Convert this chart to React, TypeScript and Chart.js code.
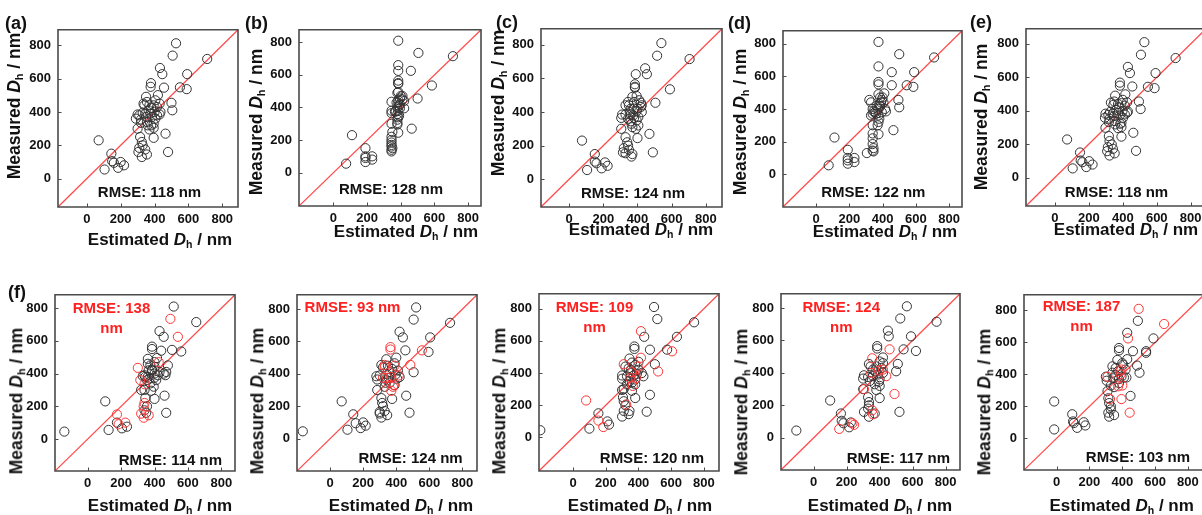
import React, { useEffect, useRef } from "react";
import { Chart, registerables } from "chart.js";
Chart.register(...registerables);

// ---------- data ----------
const tickValues = [0, 200, 400, 600, 800];
const identityLine = [-400, 1100];

const panelA: number[][] = [
  [527, 812], [507, 738], [711, 718], [432, 664], [446, 627], [593, 627], [379, 573], [377, 551], [456, 546], [550, 548], [590, 537],
  [350, 491], [420, 501], [355, 460], [405, 470], [430, 450], [500, 455], [505, 410], [335, 450], [340, 440], [370, 440], [395, 440],
  [415, 430], [380, 425], [365, 410], [400, 400], [435, 400], [330, 395], [345, 390], [375, 390], [415, 380], [300, 385], [310, 380],
  [290, 360], [320, 355], [350, 370], [385, 370], [405, 360], [355, 340], [395, 330], [430, 385], [320, 335], [360, 320], [380, 320],
  [395, 305], [370, 295], [300, 300], [395, 245], [465, 270], [315, 250], [325, 220], [330, 200], [310, 185], [345, 175], [305, 160],
  [355, 145], [325, 130], [480, 160], [70, 230], [145, 150], [150, 105], [160, 95], [200, 100], [220, 80], [185, 65], [105, 55],
];
const panelB: number[][] = [
  [385, 810], [505, 735], [710, 715], [385, 660], [385, 625], [460, 625], [385, 565], [385, 550], [385, 545], [585, 535], [385, 495],
  [380, 490], [410, 470], [395, 455], [385, 445], [420, 440], [345, 435], [500, 455], [420, 395], [385, 430], [390, 410], [380, 400],
  [395, 395], [385, 380], [370, 375], [345, 380], [345, 365], [380, 360], [390, 350], [385, 340], [380, 325], [380, 305], [345, 300],
  [380, 295], [385, 245], [465, 270], [350, 250], [345, 220], [345, 200], [345, 185], [345, 170], [345, 160], [350, 150], [345, 140],
  [345, 130], [110, 230], [75, 55], [190, 150], [190, 100], [190, 90], [190, 65], [230, 100], [230, 80], [365, 375], [400, 470],
  [410, 450], [375, 430], [395, 420],
];
const panelC: number[][] = [
  [540, 810], [515, 735], [705, 715], [445, 660], [455, 625], [390, 625], [385, 565], [385, 550], [385, 545], [590, 535], [370, 490],
  [395, 495], [410, 470], [505, 455], [380, 460], [425, 440], [350, 440], [360, 420], [400, 420], [330, 385], [310, 385], [305, 365],
  [355, 400], [375, 380], [395, 405], [425, 400], [345, 360], [380, 365], [405, 370], [365, 330], [390, 300], [405, 320], [305, 300],
  [370, 310], [400, 245], [470, 270], [330, 250], [340, 220], [320, 185], [350, 175], [315, 160], [370, 150], [365, 135], [490, 160],
  [75, 230], [150, 150], [150, 105], [160, 95], [190, 65], [210, 100], [225, 80], [105, 55], [360, 385], [420, 455], [345, 460],
  [330, 440], [380, 420], [360, 345], [395, 350], [420, 430], [330, 155], [345, 200],
];
const panelD: number[][] = [
  [375, 810], [500, 735], [710, 715], [375, 660], [455, 625], [590, 625], [375, 565], [375, 550], [455, 545], [545, 545], [585, 535],
  [375, 490], [410, 495], [385, 470], [395, 455], [320, 455], [330, 440], [495, 455], [500, 410], [345, 385], [340, 370], [360, 370],
  [375, 400], [380, 430], [390, 440], [415, 400], [420, 385], [375, 360], [380, 340], [375, 320], [370, 300], [340, 300], [375, 245],
  [465, 270], [340, 250], [340, 220], [340, 185], [345, 160], [340, 145], [345, 140], [305, 130], [110, 225], [75, 55], [190, 150],
  [190, 100], [190, 85], [190, 65], [230, 100], [230, 75], [340, 400], [365, 420], [400, 470], [385, 415], [330, 360], [395, 380],
  [405, 440], [355, 380],
];
const panelE: number[][] = [
  [527, 810], [507, 735], [711, 715], [430, 662], [442, 625], [593, 625], [383, 568], [383, 550], [456, 545], [548, 543], [587, 535],
  [355, 490], [415, 498], [350, 455], [400, 465], [425, 450], [495, 455], [505, 410], [330, 448], [345, 435], [372, 440], [392, 445],
  [412, 430], [378, 420], [362, 405], [398, 398], [430, 395], [325, 392], [342, 385], [372, 385], [412, 378], [298, 382], [315, 375],
  [295, 358], [322, 352], [348, 368], [382, 372], [402, 358], [352, 338], [392, 328], [425, 388], [318, 332], [355, 318], [385, 322],
  [392, 302], [372, 296], [298, 298], [392, 245], [462, 268], [318, 248], [322, 218], [335, 198], [312, 182], [342, 172], [308, 158],
  [352, 145], [322, 132], [478, 160], [72, 228], [148, 150], [152, 102], [162, 92], [202, 98], [222, 78], [185, 63], [105, 55],
];
const panelF: number[][] = [
  [-140, 45], [515, 810], [650, 715], [430, 660], [455, 625], [385, 565], [385, 550], [440, 540], [505, 545], [560, 535], [360, 490],
  [415, 495], [470, 410], [480, 450], [460, 265], [470, 160], [105, 230], [125, 55], [175, 100], [205, 65], [235, 75], [320, 300],
  [400, 245], [345, 250], [330, 385], [360, 460], [375, 450], [400, 440], [365, 420], [385, 425], [400, 400], [430, 410], [345, 380],
  [370, 370], [400, 375], [420, 390], [455, 400], [465, 390], [375, 340], [395, 320], [380, 295], [340, 390], [355, 360], [410, 360],
  [340, 300], [355, 200], [340, 175], [350, 160], [385, 420], [360, 380], [400, 470],
];
const panelFRed: number[][] = [
  [495, 735], [540, 625], [300, 435], [315, 360], [340, 335], [425, 470], [340, 220], [335, 200], [320, 155], [335, 130], [365, 145],
  [175, 150], [185, 90], [225, 100],
];
const panelG: number[][] = [
  [-165, 45], [70, 230], [105, 55], [140, 150], [155, 95], [185, 65], [200, 100], [215, 80], [520, 810], [505, 735], [725, 715],
  [420, 660], [440, 625], [605, 625], [455, 545], [595, 535], [505, 410], [460, 265], [480, 160], [375, 245], [340, 490], [400, 500],
  [310, 455], [320, 440], [350, 450], [390, 465], [410, 420], [280, 385], [285, 365], [300, 390], [340, 400], [360, 410], [395, 395],
  [420, 380], [345, 360], [360, 345], [330, 320], [390, 330], [285, 300], [310, 250], [315, 220], [320, 200], [300, 165], [330, 170],
  [345, 145], [310, 130], [300, 155], [375, 430], [355, 375], [405, 370], [335, 345],
];
const panelGRed: number[][] = [
  [365, 565], [365, 550], [330, 455], [330, 440], [390, 450], [320, 375], [345, 375], [370, 380], [415, 390], [385, 330], [380, 320],
  [370, 295], [555, 545], [485, 455],
];
const panelH: number[][] = [
  [-200, 45], [495, 810], [515, 735], [740, 715], [435, 625], [635, 625], [375, 565], [375, 550], [470, 545], [575, 545], [500, 455],
  [470, 265], [450, 160], [380, 245], [100, 55], [155, 150], [210, 100], [220, 80], [345, 490], [360, 465], [320, 440], [340, 430],
  [380, 450], [400, 420], [420, 400], [430, 380], [300, 385], [300, 365], [330, 380], [350, 400], [370, 385], [380, 360], [345, 350],
  [360, 340], [380, 330], [310, 300], [300, 295], [360, 290], [305, 250], [310, 225], [320, 200], [310, 165], [345, 165], [340, 145],
  [300, 130], [330, 330], [390, 395], [355, 420], [400, 470],
];
const panelHRed: number[][] = [
  [415, 660], [415, 495], [310, 455], [395, 440], [360, 405], [350, 370], [385, 370], [365, 320], [520, 410], [605, 535], [80, 230],
  [155, 105], [185, 65], [325, 205],
];
const panelI: number[][] = [
  [-105, 45], [565, 810], [525, 735], [745, 715], [450, 660], [455, 625], [590, 625], [385, 565], [385, 550], [545, 545], [620, 535],
  [500, 410], [510, 455], [520, 160], [400, 245], [100, 230], [165, 150], [170, 105], [180, 90], [215, 65], [225, 95], [420, 495],
  [400, 470], [335, 455], [345, 440], [380, 440], [410, 430], [305, 385], [300, 365], [330, 375], [360, 380], [390, 390], [400, 360],
  [420, 400], [340, 350], [370, 330], [400, 320], [380, 295], [300, 300], [330, 250], [335, 220], [335, 200], [330, 180], [305, 160],
  [335, 130], [370, 150], [360, 420], [395, 345], [420, 460], [375, 410],
];
const panelIRed: number[][] = [
  [460, 545], [355, 490], [395, 415], [420, 420], [440, 380], [350, 400], [305, 300], [490, 270], [355, 170], [360, 145], [155, 55],
  [235, 90], [245, 80],
];
const panelJ: number[][] = [
  [-15, 230], [-15, 55], [95, 150], [100, 105], [105, 95], [125, 65], [165, 100], [175, 80], [495, 735], [430, 660], [590, 625],
  [465, 545], [545, 545], [545, 535], [490, 455], [505, 410], [450, 265], [310, 295], [380, 565], [380, 550], [370, 490], [430, 495],
  [340, 450], [360, 440], [405, 460], [420, 430], [300, 385], [305, 360], [345, 375], [360, 395], [380, 370], [410, 380], [425, 380],
  [330, 330], [350, 320], [380, 345], [315, 250], [320, 220], [330, 200], [330, 180], [315, 160], [320, 135], [350, 145], [400, 470],
  [375, 420], [395, 385], [340, 410],
];
const panelJRed: number[][] = [
  [500, 810], [655, 715], [435, 625], [310, 385], [395, 430], [385, 420], [390, 400], [375, 325], [400, 330], [325, 245], [395, 245],
  [445, 160],
];

// ---------- layout ----------
const FONT = '"Liberation Sans", Arial, Helvetica, sans-serif';
const PADL = 50, PADR = 14, PADT = 12, PADB = 30;

type Cfg = {
  pts: number[][]; red?: number[][]; box: number[]; range: number[];
  label?: string; labelPos?: number[];
  rmse: string; rmsePos: number[]; rmseAnchor: "center" | "right";
  redRmse?: string[]; redPos?: number[];
  xt: number[]; yt: number[];
};

const panels: Cfg[] = [
  { pts: panelA, box: [58, 27, 180, 180], range: [-170, 893], label: "(a)", labelPos: [5, 23], rmse: "RMSE: 118 nm", rmsePos: [149.5, 190.7], rmseAnchor: "center", xt: [160, 239], yt: [14.5, 106] },
  { pts: panelB, box: [299, 27, 182, 179], range: [-205, 877], label: "(b)", labelPos: [245, 23], rmse: "RMSE: 128 nm", rmsePos: [391, 188.3], rmseAnchor: "center", xt: [406, 231], yt: [256.5, 122] },
  { pts: panelC, box: [541, 26, 181, 181], range: [-165, 895], label: "(c)", labelPos: [496, 22], rmse: "RMSE: 124 nm", rmsePos: [633, 191.7], rmseAnchor: "center", xt: [641, 228.5], yt: [499, 103] },
  { pts: panelD, box: [783, 28, 179, 179], range: [-200, 878], label: "(d)", labelPos: [728, 23], rmse: "RMSE: 122 nm", rmsePos: [873.3, 190.7], rmseAnchor: "center", xt: [885, 231], yt: [741, 122] },
  { pts: panelE, box: [1026, 26, 180, 180], range: [-170, 890], label: "(e)", labelPos: [970, 22], rmse: "RMSE: 118 nm", rmsePos: [1116.5, 190.7], rmseAnchor: "center", xt: [1126, 229], yt: [981.5, 117] },
  { pts: panelF, red: panelFRed, box: [55, 292, 180, 179], range: [-196, 882], label: "(f)", labelPos: [8, 291.5], rmse: "RMSE: 114 nm", rmsePos: [222, 459], rmseAnchor: "right", redRmse: ["RMSE: 138", "nm"], redPos: [111.5, 317], xt: [160, 505], yt: [16.5, 401] },
  { pts: panelG, red: panelGRed, box: [297, 292, 180, 179], range: [-200, 888], rmse: "RMSE: 124 nm", rmsePos: [462.7, 457.3], rmseAnchor: "right", redRmse: ["RMSE: 93 nm"], redPos: [352.5, 307.3], xt: [401, 505], yt: [258, 401] },
  { pts: panelH, red: panelHRed, box: [539, 291, 180, 180], range: [-208, 892], rmse: "RMSE: 120 nm", rmsePos: [704, 457.3], rmseAnchor: "right", redRmse: ["RMSE: 109", "nm"], redPos: [594.5, 316], xt: [640, 505], yt: [500, 401] },
  { pts: panelI, red: panelIRed, box: [781, 291, 179, 179], range: [-198, 887], rmse: "RMSE: 117 nm", rmsePos: [950, 457.3], rmseAnchor: "right", redRmse: ["RMSE: 124", "nm"], redPos: [841.3, 316], xt: [880, 505], yt: [741.5, 401.5] },
  { pts: panelJ, red: panelJRed, box: [1024, 292, 180, 178], range: [-199, 898], rmse: "RMSE: 103 nm", rmsePos: [1190, 455.8], rmseAnchor: "right", redRmse: ["RMSE: 187", "nm"], redPos: [1081.5, 315], xt: [1121.7, 505], yt: [985, 401.5] },
];

// identity (y = x) reference line, drawn through the chart's own scales
const identityPlugin = {
  id: "identity",
  beforeDatasetsDraw(chart: any) {
    const { ctx, chartArea, scales } = chart;
    const { left, top, right, bottom } = chartArea;
    ctx.save();
    ctx.beginPath();
    ctx.rect(left, top, right - left, bottom - top);
    ctx.clip();
    ctx.beginPath();
    ctx.strokeStyle = "#ff4a4a";
    ctx.lineWidth = 1.25;
    ctx.moveTo(scales.x.getPixelForValue(identityLine[0]), scales.y.getPixelForValue(identityLine[0]));
    ctx.lineTo(scales.x.getPixelForValue(identityLine[1]), scales.y.getPixelForValue(identityLine[1]));
    ctx.stroke();
    ctx.restore();
  },
};

const framePlugin = {
  id: "frame",
  afterDraw(chart: any) {
    const { ctx, chartArea, scales } = chart;
    const { left, top, right, bottom } = chartArea;
    ctx.save();
    ctx.beginPath();
    ctx.strokeStyle = "#4a4a4a";
    ctx.lineWidth = 1.6;
    ctx.rect(left, top, right - left, bottom - top);
    ctx.stroke();
    ctx.lineWidth = 1;
    ctx.beginPath();
    tickValues.forEach((v) => {
      const px = Math.round(scales.x.getPixelForValue(v)) + 0.5;
      ctx.moveTo(px, bottom);
      ctx.lineTo(px, bottom - 3.5);
      const py = Math.round(scales.y.getPixelForValue(v)) + 0.5;
      ctx.moveTo(left, py);
      ctx.lineTo(left + 3.5, py);
    });
    ctx.stroke();
    ctx.restore();
  },
};

const toXY = (arr: number[][]) => arr.map((p) => ({ x: p[0], y: p[1] }));

function Panel({ cfg }: { cfg: Cfg }) {
  const ref = useRef<HTMLCanvasElement>(null);
  const [bl, bt, bw, bh] = cfg.box;
  const w = PADL + bw + PADR;
  const h = PADT + bh + PADB;
  useEffect(() => {
    const datasets: any[] = [];
    if (cfg.red) {
      datasets.push({
        data: toXY(cfg.red), showLine: false, pointRadius: 4.6, pointBorderWidth: 1,
        pointBorderColor: "#ff3535", pointBackgroundColor: "rgba(0,0,0,0)", borderColor: "#ff3535",
        backgroundColor: "rgba(0,0,0,0)",
      });
    }
    datasets.push({
      data: toXY(cfg.pts), showLine: false, pointRadius: 4.6, pointBorderWidth: 1,
      pointBorderColor: "#333333", pointBackgroundColor: "rgba(0,0,0,0)", borderColor: "#333333",
      backgroundColor: "rgba(0,0,0,0)",
    });
    const tickFont = { family: FONT, size: 13, weight: "bold" as const };
    const chart = new Chart(ref.current as HTMLCanvasElement, {
      type: "scatter",
      data: { datasets },
      options: {
        responsive: false,
        animation: false,
        devicePixelRatio: 1,
        events: [],
        layout: { padding: { left: 0, top: PADT, right: PADR, bottom: 0 } },
        plugins: { legend: { display: false }, tooltip: { enabled: false } },
        scales: {
          x: {
            type: "linear", min: cfg.range[0], max: cfg.range[1],
            grid: { display: false, drawTicks: false }, border: { display: false },
            ticks: { font: tickFont, color: "#111", padding: 5, maxRotation: 0, autoSkip: false },
            afterBuildTicks: (s: any) => { s.ticks = tickValues.map((v) => ({ value: v })); },
            afterFit: (s: any) => { s.height = PADB; },
          },
          y: {
            type: "linear", min: cfg.range[0], max: cfg.range[1],
            grid: { display: false, drawTicks: false }, border: { display: false },
            ticks: { font: tickFont, color: "#111", padding: 7, autoSkip: false },
            afterBuildTicks: (s: any) => { s.ticks = tickValues.map((v) => ({ value: v })); },
            afterFit: (s: any) => { s.width = PADL; },
          },
        },
      } as any,
      plugins: [identityPlugin, framePlugin],
    });
    return () => chart.destroy();
  }, []);
  return (
    <canvas
      ref={ref}
      width={w}
      height={h}
      style={{ position: "absolute", left: bl - PADL, top: bt - PADT, width: w, height: h }}
    />
  );
}

function Txt({ x, y, anchor, size, color, children, lh }: any) {
  const tx = anchor === "right" ? "-100%" : anchor === "left" ? "0" : "-50%";
  return (
    <div
      style={{
        position: "absolute", left: x, top: y, whiteSpace: "nowrap",
        transform: `translate(${tx}, -50%)`,
        font: `bold ${size}px ${FONT}`, color: color || "#111", lineHeight: lh || 1, textAlign: "center",
      }}
    >
      {children}
    </div>
  );
}

const Dh = () => (
  <>
    <i>D</i>
    <span style={{ fontSize: "0.62em", position: "relative", top: "0.32em", fontStyle: "normal" }}>h</span>
  </>
);

export default function App() {
  return (
    <div style={{ position: "absolute", left: 0, top: 0, width: 1202, height: 515, overflow: "hidden", background: "#fff" }}>
      {panels.map((p, i) => (
        <React.Fragment key={i}>
          <Panel cfg={p} />
          {p.label && (
            <Txt x={p.labelPos![0]} y={p.labelPos![1]} anchor="left" size={18}>{p.label}</Txt>
          )}
          <Txt x={p.rmsePos[0]} y={p.rmsePos[1]} anchor={p.rmseAnchor} size={15}>{p.rmse}</Txt>
          {p.redRmse && (
            <Txt x={p.redPos![0]} y={p.redPos![1]} anchor="center" size={15} color="#ff2020" lh={1.3}>
              {p.redRmse.map((l, k) => (<div key={k}>{l}</div>))}
            </Txt>
          )}
          <Txt x={p.xt[0]} y={p.xt[1]} anchor="center" size={17}>
            Estimated <Dh /> / nm
          </Txt>
          <div
            style={{
              position: "absolute", left: p.yt[0], top: p.yt[1], whiteSpace: "nowrap",
              transform: "translate(-50%, -50%) rotate(-90deg)",
              font: `bold 17.5px ${FONT}`, color: "#111", lineHeight: 1,
            }}
          >
            Measured <Dh /> / nm
          </div>
        </React.Fragment>
      ))}
    </div>
  );
}
